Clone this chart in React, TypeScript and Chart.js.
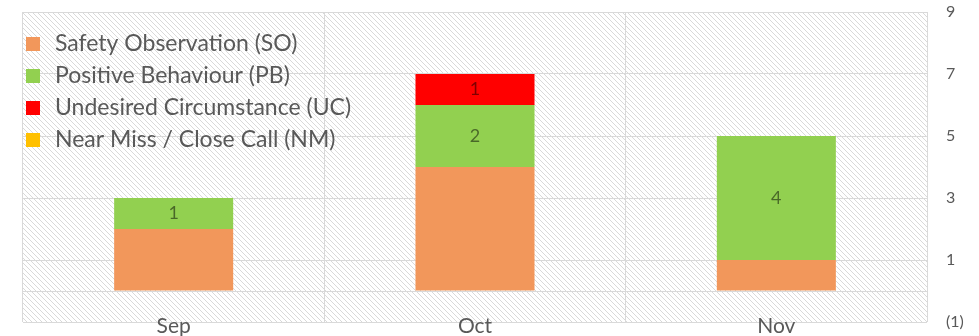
import React, { useEffect, useRef } from "react";
import { Chart, registerables } from "chart.js";

Chart.register(...registerables);

const categories = ["Sep", "Oct", "Nov"];
const soValues = [2, 4, 1];
const pbValues = [1, 2, 4];
const ucValues = [0, 1, 0];
const nmValues = [0, 0, 0];
const yTickValues = [-1, 0, 1, 3, 5, 7, 9];
const seriesLabels = [
  "Safety Observation (SO)",
  "Positive Behaviour (PB)",
  "Undesired Circumstance (UC)",
  "Near Miss / Close Call (NM)",
];
const seriesColors = ["#F2975B", "#92D050", "#FF0000", "#FFC000"];
const labelledSeries = [false, true, true, true];

const FONT = "Lato, 'Open Sans', sans-serif";

function makeHatch(ctx: CanvasRenderingContext2D) {
  const s = 5;
  const c = document.createElement("canvas");
  c.width = s;
  c.height = s;
  const g = c.getContext("2d")!;
  g.fillStyle = "#ffffff";
  g.fillRect(0, 0, s, s);
  g.strokeStyle = "#d9d9d9";
  g.lineWidth = 1;
  g.beginPath();
  g.moveTo(-1, -1);
  g.lineTo(s + 1, s + 1);
  g.moveTo(-1, s - 1);
  g.lineTo(1, s + 1);
  g.moveTo(s - 1, -1);
  g.lineTo(s + 1, 1);
  g.stroke();
  return ctx.createPattern(c, "repeat");
}

const hatchPlugin = {
  id: "hatchBg",
  beforeDraw(chart: any) {
    const { ctx, chartArea } = chart;
    const p = makeHatch(ctx);
    if (!p) return;
    ctx.save();
    ctx.fillStyle = p;
    ctx.fillRect(chartArea.left, chartArea.top, chartArea.right - chartArea.left, chartArea.bottom - chartArea.top);
    ctx.restore();
  },
};

const barLabelPlugin = {
  id: "barLabels",
  afterDatasetsDraw(chart: any) {
    const { ctx } = chart;
    ctx.save();
    ctx.font = `18px ${FONT}`;
    ctx.textAlign = "center";
    ctx.textBaseline = "middle";
    chart.data.datasets.forEach((ds: any, i: number) => {
      if (!labelledSeries[i]) return;
      const meta = chart.getDatasetMeta(i);
      meta.data.forEach((el: any, j: number) => {
        const v = ds.data[j];
        if (!v) return;
        ctx.fillStyle = "rgba(0,0,0,0.5)";
        ctx.fillText(String(v), el.x, (el.y + el.base) / 2);
      });
    });
    ctx.restore();
  },
};

const categoryLabelPlugin = {
  id: "categoryLabels",
  afterDraw(chart: any) {
    const { ctx } = chart;
    const xs = chart.scales.x;
    ctx.save();
    ctx.font = `21px ${FONT}`;
    ctx.textAlign = "center";
    ctx.textBaseline = "alphabetic";
    ctx.fillStyle = "#595959";
    chart.data.labels.forEach((lab: string, i: number) => {
      ctx.fillText(lab, xs.getPixelForValue(i), xs.top + 11);
    });
    ctx.restore();
  },
};

const legendPlugin = {
  id: "innerLegend",
  afterDraw(chart: any) {
    const { ctx } = chart;
    ctx.save();
    ctx.font = `23px ${FONT}`;
    ctx.textBaseline = "middle";
    ctx.textAlign = "left";
    chart.data.datasets.forEach((ds: any, i: number) => {
      const y = 44 + i * 32;
      ctx.fillStyle = ds.backgroundColor;
      ctx.fillRect(26, y - 7, 14, 14);
      ctx.fillStyle = "#595959";
      ctx.fillText(ds.label, 55, y);
    });
    ctx.restore();
  },
};

export default function App() {
  const ref = useRef<HTMLCanvasElement>(null);
  useEffect(() => {
    document.body.style.margin = "0";
    const values = [soValues, pbValues, ucValues, nmValues];
    const chart = new Chart(ref.current!, {
      type: "bar",
      data: {
        labels: categories,
        datasets: values.map((d, i) => ({
          label: seriesLabels[i],
          data: d,
          backgroundColor: seriesColors[i],
          borderWidth: 0,
          categoryPercentage: 1,
          barPercentage: 0.395,
        })),
      },
      options: {
        responsive: false,
        animation: false,
        layout: { padding: { left: 23, top: 12, right: 0, bottom: 0 } },
        plugins: { legend: { display: false }, tooltip: { enabled: false } },
        scales: {
          x: {
            stacked: true,
            offset: true,
            grid: { offset: true, color: "#d9d9d9", drawTicks: false, lineWidth: 1 },
            border: { display: false },
            ticks: { display: false },
            afterFit: (s: any) => {
              s.height = 14;
            },
          },
          y: {
            stacked: true,
            position: "right",
            min: -1,
            max: 9,
            grid: { color: "#d9d9d9", drawTicks: true, tickLength: 19, tickColor: "rgba(0,0,0,0)", lineWidth: 1 },
            border: { display: false },
            afterBuildTicks: (s: any) => {
              s.ticks = yTickValues.map((v) => ({ value: v }));
            },
            ticks: {
              color: "#595959",
              font: { family: FONT, size: 16 },
              padding: 0,
              autoSkip: false,
              callback: (v: any) => (v === 0 ? "" : v < 0 ? `(${Math.abs(v)})` : String(v)),
            },
            afterFit: (s: any) => {
              s.width = 52;
            },
          },
        },
      },
      plugins: [hatchPlugin, barLabelPlugin, categoryLabelPlugin, legendPlugin],
    });
    return () => chart.destroy();
  }, []);
  return <canvas ref={ref} width={979} height={336} style={{ display: "block" }} />;
}
